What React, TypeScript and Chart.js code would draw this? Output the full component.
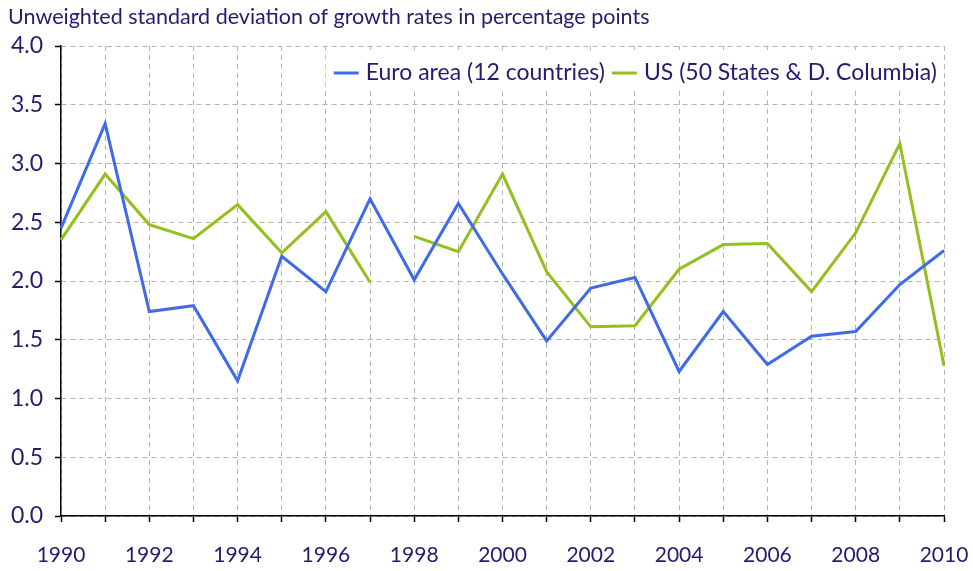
import React, { useEffect, useRef } from "react";
import { Chart, registerables } from "chart.js";

Chart.register(...registerables);

const years = [
  "1990", "1991", "1992", "1993", "1994", "1995", "1996", "1997", "1998", "1999", "2000",
  "2001", "2002", "2003", "2004", "2005", "2006", "2007", "2008", "2009", "2010",
];

const euroArea = [
  2.45, 3.34, 1.74, 1.79, 1.15, 2.21, 1.91, 2.7, 2.01, 2.66, 2.06,
  1.49, 1.94, 2.03, 1.23, 1.74, 1.29, 1.53, 1.57, 1.97, 2.26,
];

const usStates = [
  2.35, 2.91, 2.48, 2.36, 2.65, 2.24, 2.59, 1.99, 2.38, 2.25, 2.91,
  2.08, 1.61, 1.62, 2.1, 2.31, 2.32, 1.91, 2.41, 3.17, 1.28,
];

// US series has a break between 1997 and 1998
const usBreakAfter = "1997";

const seriesNames = ["Euro area (12 countries)", "US (50 States & D. Columbia)"];
const seriesColors = ["#3f6be9", "#93c01f"];
const yTicks = [0, 0.5, 1, 1.5, 2, 2.5, 3, 3.5, 4];

const TITLE = "Unweighted standard deviation of growth rates in percentage points";
const NAVY = "#221d6e";
const FONT = "Lato, 'Open Sans', sans-serif";

const legendPlugin = {
  id: "customLegend",
  afterDatasetsDraw(chart: any) {
    const { ctx, chartArea } = chart;
    ctx.save();
    ctx.font = `23px ${FONT}`;
    const lineLen = 25;
    const gapLineText = 7;
    const gapItems = 7;
    const widths = seriesNames.map((n) => ctx.measureText(n).width);
    const total =
      widths.reduce((a, b) => a + b, 0) + seriesNames.length * (lineLen + gapLineText) + gapItems;
    const right = chartArea.right - 7;
    let x = right - total;
    const y = chartArea.top + 27;
    ctx.fillStyle = "#ffffff";
    ctx.fillRect(x - 8, chartArea.top + 4, total + 14, 38);
    seriesNames.forEach((name, i) => {
      ctx.strokeStyle = seriesColors[i];
      ctx.lineWidth = 3;
      ctx.beginPath();
      ctx.moveTo(x, y);
      ctx.lineTo(x + lineLen, y);
      ctx.stroke();
      x += lineLen + gapLineText;
      ctx.fillStyle = NAVY;
      ctx.textBaseline = "middle";
      ctx.textAlign = "left";
      ctx.fillText(name, x, y);
      x += widths[i] + gapItems;
    });
    ctx.restore();
  },
};

export default function App() {
  const canvasRef = useRef<HTMLCanvasElement | null>(null);

  useEffect(() => {
    if (!canvasRef.current) return;
    const breakIdx = years.indexOf(usBreakAfter);
    const chart = new Chart(canvasRef.current, {
      type: "line",
      data: {
        labels: years,
        datasets: [
          {
            label: seriesNames[0],
            data: euroArea,
            borderColor: seriesColors[0],
            backgroundColor: seriesColors[0],
            borderWidth: 3,
            pointRadius: 0,
            tension: 0,
          },
          {
            label: seriesNames[1],
            data: usStates,
            borderColor: seriesColors[1],
            backgroundColor: seriesColors[1],
            borderWidth: 3,
            pointRadius: 0,
            tension: 0,
            segment: {
              borderColor: (c: any) =>
                c.p0DataIndex === breakIdx ? "rgba(0,0,0,0)" : undefined,
            },
          },
        ],
      },
      plugins: [legendPlugin],
      options: {
        animation: false,
        responsive: true,
        maintainAspectRatio: false,
        layout: { padding: { left: 8, right: 29, top: 0, bottom: 0 } },
        plugins: {
          legend: { display: false },
          tooltip: { enabled: false },
          title: {
            display: true,
            text: TITLE,
            align: "start",
            color: NAVY,
            font: { family: FONT, size: 21.5, weight: "normal" },
            padding: { top: 4, bottom: 16.2 },
          },
        },
        scales: {
          x: {
            type: "category",
            offset: false,
            afterFit: (s: any) => {
              s.height = 55;
              s.paddingLeft = 0;
              s.paddingRight = 0;
            },
            grid: {
              color: "#b4b4b4",
              lineWidth: 1,
              drawTicks: true,
              tickLength: 6,
              tickColor: "#000",
              tickWidth: 1.5,
            },
            border: { display: true, color: "#000", width: 1.5, dash: [5, 4] },
            ticks: {
              autoSkip: false,
              maxRotation: 0,
              color: NAVY,
              padding: 21,
              font: { family: FONT, size: 21 },
              callback: (_v: any, i: number) => (Number(years[i]) % 2 === 0 ? years[i] : ""),
            },
          },
          y: {
            min: 0,
            max: 4,
            afterFit: (s: any) => {
              s.width = 53;
              s.paddingTop = 0;
              s.paddingBottom = 0;
            },
            afterBuildTicks: (s: any) => {
              s.ticks = yTicks.map((v) => ({ value: v }));
            },
            grid: {
              color: "#b4b4b4",
              lineWidth: 1,
              drawTicks: true,
              tickLength: 6,
              tickColor: "#000",
              tickWidth: 1.5,
            },
            border: { display: true, color: "#000", width: 1.5, dash: [5, 4] },
            ticks: {
              color: NAVY,
              padding: 12,
              font: { family: FONT, size: 23 },
              callback: (v: any) => Number(v).toFixed(1),
            },
          },
        },
      },
    } as any);
    return () => chart.destroy();
  }, []);

  return (
    <div style={{ position: "fixed", left: 0, top: 0, width: 973, height: 571, background: "#fff" }}>
      <canvas ref={canvasRef} />
    </div>
  );
}
